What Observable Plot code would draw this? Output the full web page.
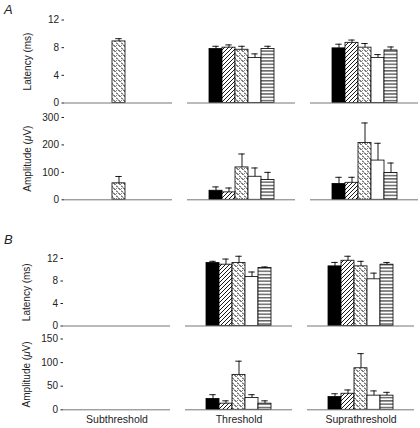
<!DOCTYPE html>
<html><head><meta charset="utf-8">
<script src="https://cdn.jsdelivr.net/npm/d3@7"></script>
<script src="https://cdn.jsdelivr.net/npm/@observablehq/plot@0.6"></script>
<style>
html,body{margin:0;padding:0;background:#fff;}
#wrap{position:relative;width:420px;height:428px;overflow:hidden;font-family:"Liberation Sans",Arial,sans-serif;color:#222;}
#wrap svg.plot{position:absolute;left:0;}
.letter{position:absolute;font-style:italic;font-size:13px;line-height:13px;}
</style></head>
<body><div id="wrap"></div>
<script>
// ---- data ----
const conditions = ["Subthreshold", "Threshold", "Suprathreshold"];
const groups = ["solid", "diagonal", "stippled", "open", "striped"];

// Panel A: latency (ms), rows = conditions, columns = groups
const aLatMean = [[null, null, 8.9, null, null], [7.8, 8.0, 7.7, 6.5, 7.8], [7.9, 8.7, 8.0, 6.5, 7.6]];
const aLatErr  = [[null, null, 0.4, null, null], [0.4, 0.4, 0.5, 0.6, 0.4], [0.6, 0.4, 0.6, 0.5, 0.5]];
// Panel A: amplitude (µV)
const aAmpMean = [[null, null, 60, null, null], [33, 27, 118, 84, 72], [58, 62, 207, 143, 98]];
const aAmpErr  = [[null, null, 25, null, null], [14, 16, 49, 32, 28], [24, 20, 73, 63, 36]];
// Panel B: latency (ms)
const bLatMean = [[null, null, null, null, null], [11.2, 10.9, 11.2, 8.7, 10.3], [10.6, 11.6, 10.6, 8.3, 10.9]];
const bLatErr  = [[null, null, null, null, null], [0.3, 1.0, 1.2, 0.9, 0.2], [0.7, 0.8, 0.9, 1.1, 0.4]];
// Panel B: amplitude (µV)
const bAmpMean = [[null, null, null, null, null], [23, 13, 74, 25, 13], [27, 34, 88, 30, 30]];
const bAmpErr  = [[null, null, null, null, null], [9, 6, 29, 7, 6], [7, 8, 31, 10, 7]];

const latTicks = [0, 4, 8, 12];
const aAmpTicks = [0, 100, 200, 300];
const bAmpTicks = [0, 50, 100, 150];

// ---- patterns ----
const wrap = document.getElementById("wrap");
const defsSvg = d3.select(wrap).append("svg").attr("width", 0).attr("height", 0).style("position", "absolute");
const defs = defsSvg.append("defs");
function pat(id, w, h, d, sw) {
  const p = defs.append("pattern").attr("id", id).attr("patternUnits", "userSpaceOnUse").attr("width", w).attr("height", h);
  p.append("rect").attr("width", w).attr("height", h).attr("fill", "#fff");
  p.append("path").attr("d", d).attr("stroke", "#000").attr("stroke-width", sw).attr("fill", "none");
}
pat("p-diag", 4, 4, "M0,4L4,0M-1,1L1,-1M3,5L5,3", 0.9);
pat("p-stip", 5, 5, "M0,2.5L2,4.5M2.5,0L4.5,2M-0.5,-0.5L0.5,0.5", 1.0);
pat("p-stripe", 4, 3.3, "M0,1.6H4", 0.9);
const fills = ["#000", "url(#p-diag)", "url(#p-stip)", "#fff", "url(#p-stripe)"];

function rowsOf(means, errs) {
  const out = [];
  conditions.forEach((c, i) => groups.forEach((g, j) => {
    const m = means[i][j];
    if (m != null) out.push({cond: c, group: g, mean: m, err: errs[i][j]});
  }));
  return out;
}

function panel({means, errs, yMax, ticks, label, top, height, mTop, mBottom, showFx, mRight}) {
  const rows = rowsOf(means, errs);
  const svg = Plot.plot({
    width: 420, height,
    marginLeft: 63, marginRight: mRight, marginTop: mTop, marginBottom: mBottom,
    style: {fontFamily: "'Liberation Sans', Arial, sans-serif", fontSize: "10px", color: "#222", background: "transparent", overflow: "visible"},
    fx: {domain: conditions, paddingInner: 0.12, paddingOuter: 0, label: null, axis: null},
    x: {domain: groups, paddingInner: 0, paddingOuter: 1.6, axis: null},
    y: {domain: [0, yMax], axis: null},
    color: {domain: groups, range: fills},
    marks: [
      showFx ? Plot.axisFx({anchor: "bottom", tickSize: 0, tickPadding: 6, fontSize: 10.5, label: null}) : null,
      Plot.axisY({ticks, tickSize: 2.5, tickPadding: 3, label, labelAnchor: "center", labelOffset: 41, labelArrow: "none", line: true, fontSize: 10}),
      Plot.barY(rows, {fx: "cond", x: "group", y: "mean", fill: "group", stroke: "#000", strokeWidth: 0.8}),
      Plot.ruleX(rows, {fx: "cond", x: "group", y1: "mean", y2: d => d.mean + d.err, stroke: "#000", strokeWidth: 0.9}),
      Plot.tickY(rows, {fx: "cond", x: "group", y: d => d.mean + d.err, insetLeft: 3.3, insetRight: 3.3, stroke: "#000", strokeWidth: 0.9}),
      Plot.ruleY(conditions, {fx: d => d, y: () => 0, stroke: "#777", strokeWidth: 1})
    ]
  });
  svg.classList.add("plot");
  svg.style.top = top + "px";
  // italic mu in the label
  svg.querySelectorAll("text").forEach(t => {
    if (t.textContent.includes("μ")) {
      const parts = t.textContent.split("μ");
      t.textContent = "";
      const s = d3.select(t);
      s.append("tspan").text(parts[0]);
      s.append("tspan").attr("font-style", "italic").text("μ");
      s.append("tspan").text(parts[1]);
    }
  });
  wrap.appendChild(svg);
}

panel({means: aLatMean, errs: aLatErr, yMax: 12, ticks: latTicks, label: "Latency (ms)", top: 0, height: 108, mTop: 19.5, mBottom: 5.5, showFx: false, mRight: 0});
panel({means: aAmpMean, errs: aAmpErr, yMax: 300, ticks: aAmpTicks, label: "Amplitude (μV)", top: 108, height: 96, mTop: 9, mBottom: 4.7, showFx: false, mRight: 0});
panel({means: bLatMean, errs: bLatErr, yMax: 12, ticks: latTicks, label: "Latency (ms)", top: 240, height: 90, mTop: 18, mBottom: 4.5, showFx: false, mRight: 5});
panel({means: bAmpMean, errs: bAmpErr, yMax: 150, ticks: bAmpTicks, label: "Amplitude (μV)", top: 330, height: 98, mTop: 8.5, mBottom: 18.7, showFx: true, mRight: 5});

for (const [txt, x, y] of [["A", 4, 3], ["B", 4, 233]]) {
  const d = document.createElement("div");
  d.className = "letter"; d.textContent = txt;
  d.style.left = x + "px"; d.style.top = y + "px";
  wrap.appendChild(d);
}
</script>
</body></html>
